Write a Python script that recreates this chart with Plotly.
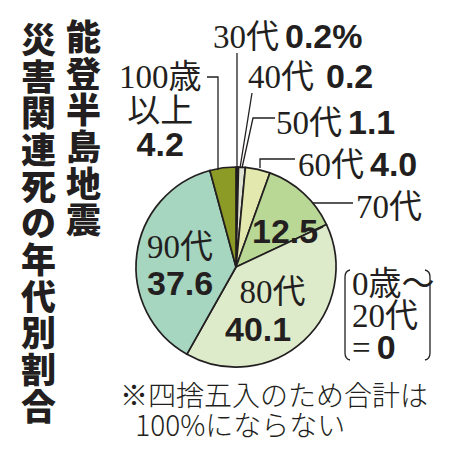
import plotly.graph_objects as go

# data (percent)
ages = ["30代", "40代", "50代", "60代", "70代", "80代", "90代", "100歳以上"]
shares = [0.2, 0.2, 1.1, 4.0, 12.5, 40.1, 37.6, 4.2]
share_labels = ["0.2%", "0.2", "1.1", "4.0", "12.5", "40.1", "37.6", "4.2"]
colors = ["#3a3a36", "#f2f2ee", "#dfe3d3", "#e3e9ae", "#b9d896", "#deebcb", "#a6d5c0", "#8b9b25"]

title_right = "能登半島地震"
title_left = "災害関連死の年代別割合"
note_lines = ["※四捨五入のため合計は", "100%にならない"]

SERIF = "Liberation Serif, Noto Sans CJK JP"
BOLD = "'Liberation Sans', 'Noto Sans CJK JP'"
GOTHIC = "Noto Sans CJK JP"
INK = "#231f20"
NB = "\u00a0"


def big(s, size):
    return f'<span style="font-size:{size}px">{s}</span>'


def num(s, size=34):
    return f'<span style="font-family:{BOLD};font-weight:bold;font-size:{size}px">{s}</span>'


fig = go.Figure()
fig.add_trace(go.Pie(
    labels=ages,
    values=shares,
    sort=False,
    direction="clockwise",
    rotation=0,
    marker=dict(colors=colors, line=dict(color=INK, width=1.7)),
    textinfo="none",
    hoverinfo="label+value",
    showlegend=False,
    domain=dict(x=[136 / 450, 336 / 450], y=[(183 - 100) / 450, (183 + 100) / 450]),
))
# empty trace so the pixel-style axes exist for shapes / annotations
fig.add_trace(go.Scatter(x=[], y=[], showlegend=False, hoverinfo="skip"))

annos = []


def txt(x, y, s, family, size, anchor="left", weight="normal", align="left"):
    annos.append(dict(
        x=x, y=y, xref="x", yref="y", text=s, showarrow=False,
        xanchor=anchor, yanchor="middle", align=align,
        font=dict(family=family, size=size, color=INK, weight=weight),
    ))


# vertical titles: one column each, glyphs enlarged inside a tighter line pitch
txt(83, 16 + len(title_right) * 36.7 / 2, "<br>".join(big(c, 35) for c in title_right),
    GOTHIC, 28.2, "center", 900, "center")
txt(38, 19 + len(title_left) * 36.7 / 2, "<br>".join(big(c, 35) for c in title_left),
    GOTHIC, 28.2, "center", 900, "center")

# outside labels: age (serif) + share (bold)
txt(211, 36, big(ages[0], 33) + " " + num(share_labels[0]), SERIF, 24)
txt(246, 76, big(ages[1], 33) + "  " + num(share_labels[1]), SERIF, 24)
txt(274, 122, big(ages[2], 33) + " " + num(share_labels[2]), SERIF, 24)
txt(296, 164, big(ages[3], 33) + " " + num(share_labels[3]), SERIF, 24)
txt(354, 207, ages[4], SERIF, 33, "left")
txt(285, 231, share_labels[4], BOLD, 34, "center", "bold")
txt(223, 311, NB * 2 + big(ages[5], 33) + "<br>" + num(share_labels[5]), SERIF, 29, "left")
txt(180, 265, big(ages[6], 33) + "<br>" + num(share_labels[6]), SERIF, 28.5, "center", align="center")
txt(160, 111, big("100歳", 33) + "<br>" + big("以上", 33) + "<br>" + num(share_labels[7]),
    SERIF, 26, "center", align="center")

# bracket note
txt(350, 316, big("0歳～", 33) + "<br>" + big("20代", 33) + "<br>" + big("=", 33) + " " + num("0"),
    SERIF, 24.5)

# footnote
txt(118, 409, big(note_lines[0], 28) + "<br>" + NB * 3 + big(note_lines[1], 28), GOTHIC, 23,
    weight=300)

line = dict(color=INK, width=1.3)
leaders = [
    "M237,53 L237,168",
    "M240,168 L252,93",
    "M242,168 L253,118 L275,118",
    "M260,168 L260,159 L295,159",
    "M313,203 L353,203",
    "M315,231 L323,227",
    "M207,77 L218,77 L218,170",
    "M350,270 Q345,271 345,277 L345,353 Q345,359 350,360",
    "M425,270 Q430,271 430,277 L430,353 Q430,359 425,360",
]
shapes = [dict(type="path", path=p, xref="x", yref="y", line=line, layer="above") for p in leaders]

fig.update_layout(
    width=450, height=450,
    margin=dict(l=0, r=0, t=0, b=0),
    paper_bgcolor="white", plot_bgcolor="rgba(0,0,0,0)",
    xaxis=dict(range=[0, 450], visible=False, fixedrange=True),
    yaxis=dict(range=[450, 0], visible=False, fixedrange=True),
    annotations=annos,
    shapes=shapes,
)
fig.write_html("out.html", config={"displayModeBar": False},
               post_script="document.body.style.margin='0';")
